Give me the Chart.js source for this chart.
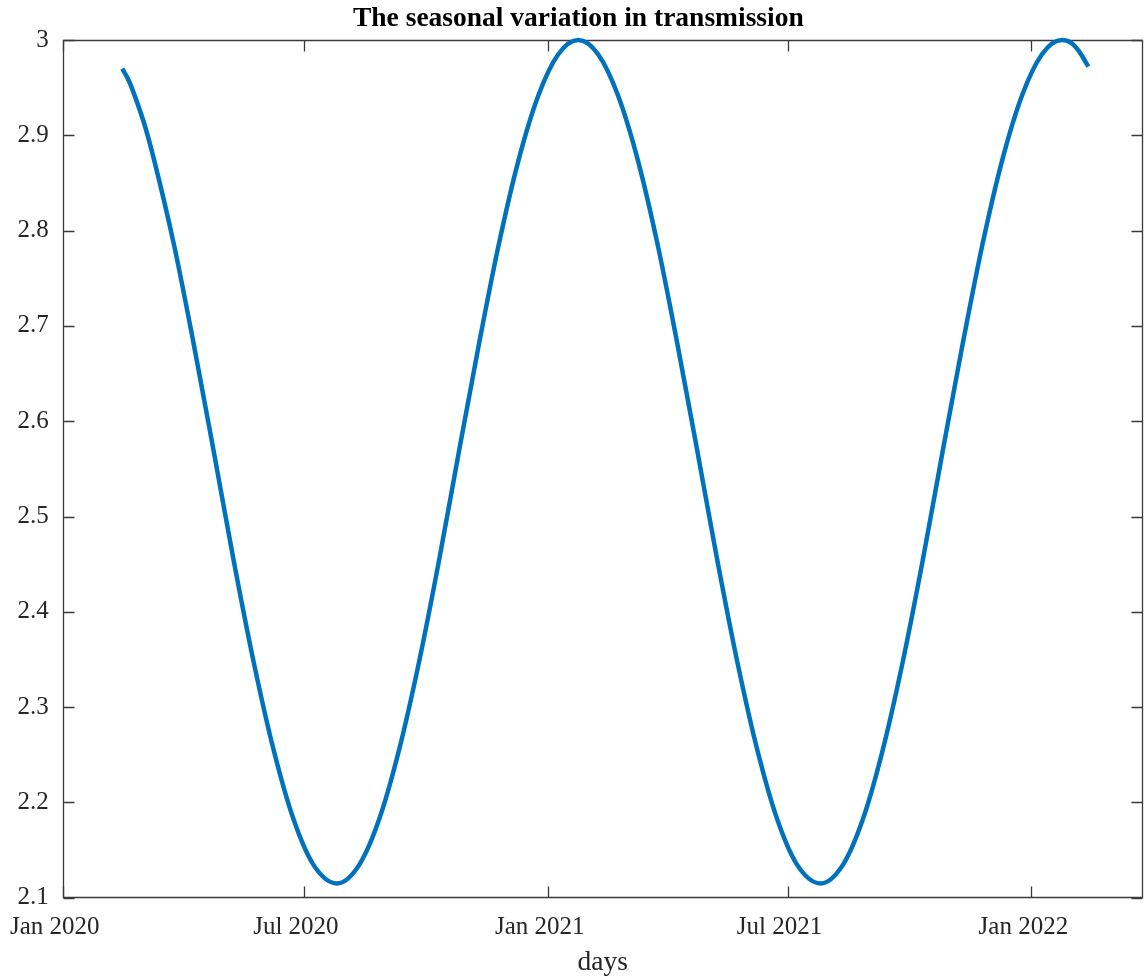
<!DOCTYPE html>
<html>
<head>
<meta charset="utf-8">
<script src="https://cdn.jsdelivr.net/npm/chart.js@4/dist/chart.umd.min.js"></script>
<style>
html,body{margin:0;padding:0;background:#fff;}
#wrap{width:1145px;height:977px;}
canvas{display:block;}
</style>
</head>
<body>
<div id="wrap"><canvas id="c" width="1145" height="977"></canvas></div>
<script>
// ---- data ----
const titleText = "The seasonal variation in transmission";
const xAxisTitle = "days";

const dates = [
  "2020-02-15","2020-02-20","2020-02-25","2020-03-03","2020-03-10","2020-03-25","2020-04-09","2020-04-24",
  "2020-05-09","2020-05-24","2020-06-08","2020-06-23","2020-07-08","2020-07-26",
  "2020-08-12","2020-08-27","2020-09-11","2020-09-26","2020-10-11","2020-10-26",
  "2020-11-10","2020-11-25","2020-12-10","2020-12-25","2021-01-09","2021-01-24",
  "2021-02-08","2021-02-23","2021-03-10","2021-03-25","2021-04-09","2021-04-24",
  "2021-05-09","2021-05-24","2021-06-08","2021-06-23","2021-07-08","2021-07-26",
  "2021-08-12","2021-08-27","2021-09-11","2021-09-26","2021-10-11","2021-10-26",
  "2021-11-10","2021-11-25","2021-12-10","2021-12-25","2022-01-09","2022-01-24",
  "2022-01-31","2022-02-06","2022-02-13"
];
const transmission = [
  2.970,2.957,2.939,2.910,2.874,2.785,2.680,2.568,
  2.454,2.348,2.256,2.183,2.135,2.115,
  2.135,2.183,2.256,2.348,2.454,2.568,
  2.680,2.785,2.874,2.942,2.985,3.000,
  2.985,2.942,2.874,2.785,2.680,2.568,
  2.454,2.348,2.256,2.183,2.135,2.115,
  2.135,2.183,2.256,2.348,2.454,2.568,
  2.680,2.785,2.874,2.942,2.985,3.000,
  2.997,2.988,2.972
];

const xTickDates  = ["2020-01-01","2020-07-01","2021-01-01","2021-07-01","2022-01-01"];
const xTickLabels = ["Jan 2020","Jul 2020","Jan 2021","Jul 2021","Jan 2022"];
const xStart = "2020-01-01";
const xEnd   = "2022-03-26";

const yTicks      = [2.1,2.2,2.3,2.4,2.5,2.6,2.7,2.8,2.9,3];
const yTickLabels = ["2.1","2.2","2.3","2.4","2.5","2.6","2.7","2.8","2.9","3"];
const yMin = 2.1, yMax = 3;

// ---- helpers ----
const DAY = 86400000;
const T0 = Date.UTC(2020,0,1);
function dayOf(s){ const p = s.split('-').map(Number); return (Date.UTC(p[0],p[1]-1,p[2]) - T0)/DAY; }
const xTickVals = xTickDates.map(dayOf);
const points = dates.map((d,i)=>({x: dayOf(d), y: transmission[i]}));

const TICK_LEN = 11;

// draws MATLAB-style box with inward ticks, using the chart's own scales
const axesBox = {
  id: 'axesBox',
  beforeDatasetsDraw(chart){
    const {ctx, chartArea:a, scales} = chart;
    const xs = scales.x, ys = scales.y;
    const L = Math.round(a.left)+0.5, R = Math.round(a.right)-0.5;
    const T = Math.round(a.top)+0.5, B = Math.round(a.bottom)-0.5;
    ctx.save();
    ctx.strokeStyle = '#3a3a3a';
    ctx.lineWidth = 1.3;
    ctx.beginPath();
    ctx.rect(L, T, R-L, B-T);
    ctx.stroke();
    ctx.beginPath();
    xTickVals.forEach(v=>{
      const px = Math.round(xs.getPixelForValue(v))+0.5;
      ctx.moveTo(px, B); ctx.lineTo(px, B-TICK_LEN);
      ctx.moveTo(px, T); ctx.lineTo(px, T+TICK_LEN);
    });
    yTicks.forEach(v=>{
      const py = Math.round(ys.getPixelForValue(v))+0.5;
      ctx.moveTo(L, py); ctx.lineTo(L+TICK_LEN, py);
      ctx.moveTo(R, py); ctx.lineTo(R-TICK_LEN, py);
    });
    ctx.stroke();
    ctx.restore();
  }
};

new Chart(document.getElementById('c'), {
  type: 'line',
  data: {
    datasets: [{
      data: points,
      borderColor: '#0072BD',
      borderWidth: 4.5,
      pointRadius: 0,
      fill: false,
      cubicInterpolationMode: 'monotone',
      clip: false
    }]
  },
  options: {
    responsive: false,
    animation: false,
    devicePixelRatio: 1,
    parsing: false,
    layout: { padding: { left: 14, right: 2.3, top: 0, bottom: 0 } },
    plugins: {
      legend: { display: false },
      tooltip: { enabled: false },
      title: {
        display: true,
        text: titleText,
        color: '#000',
        font: { family: 'Liberation Serif', size: 27.5, weight: 'bold', lineHeight: 1 },
        padding: { top: 5.5, bottom: 7 }
      }
    },
    scales: {
      x: {
        type: 'linear',
        min: dayOf(xStart),
        max: dayOf(xEnd),
        grid: { display: false, drawTicks: false },
        border: { display: false },
        afterBuildTicks: (s)=>{ s.ticks = xTickVals.map(v=>({value:v})); },
        afterFit: (s)=>{ s.height = 79.3; },
        ticks: {
          autoSkip: false,
          maxRotation: 0,
          padding: 15,
          labelOffset: -8,
          color: '#262626',
          font: { family: 'Liberation Serif', size: 25 },
          callback: (v, i)=> xTickLabels[i]
        },
        title: {
          display: true,
          text: xAxisTitle,
          color: '#262626',
          font: { family: 'Liberation Serif', size: 27.5, lineHeight: 1 },
          padding: { top: 0, bottom: 0.5 }
        }
      },
      y: {
        type: 'linear',
        min: yMin,
        max: yMax,
        grid: { display: false, drawTicks: false },
        border: { display: false },
        afterBuildTicks: (s)=>{ s.ticks = yTicks.map(v=>({value:v})); },
        afterFit: (s)=>{ s.width = 48.7; },
        ticks: {
          padding: 14,
          color: '#262626',
          font: { family: 'Liberation Serif', size: 25 },
          callback: (v, i)=> yTickLabels[i]
        }
      }
    }
  },
  plugins: [axesBox]
});
</script>
</body>
</html>
